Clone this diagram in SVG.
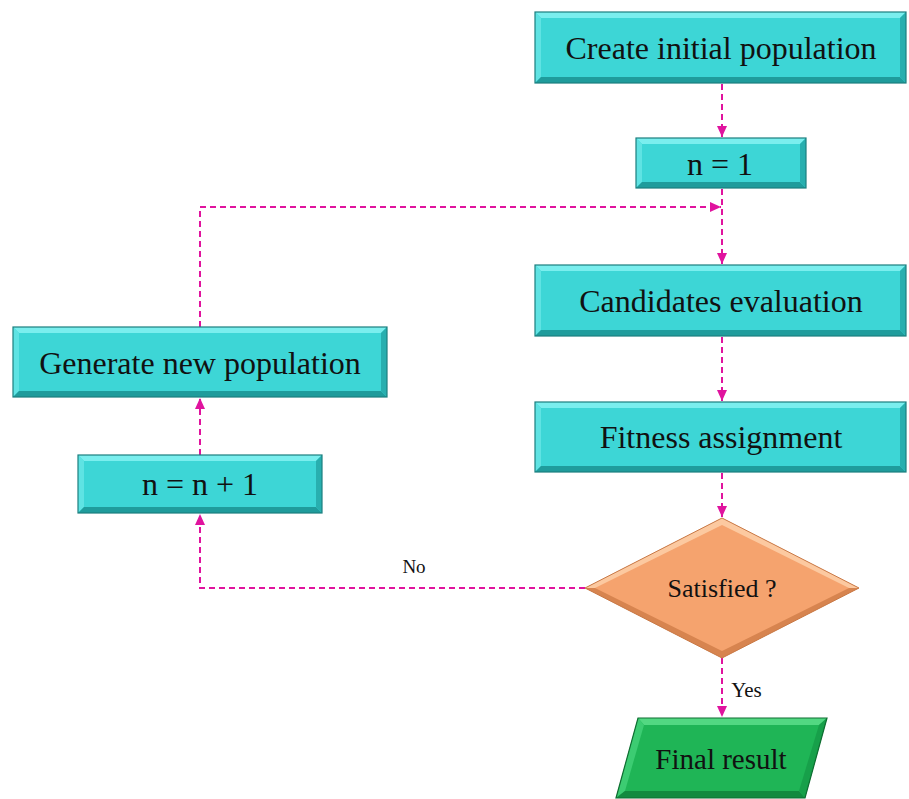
<svg xmlns="http://www.w3.org/2000/svg" width="909" height="799" viewBox="0 0 909 799">
<defs>
<style>
.t{fill:#111;text-anchor:middle}
.big{font-size:32px}
.main{fill:#3dd6d6}
.lt{fill:#7aeeee}
.ll{fill:#5fe3e3}
.dk{fill:#1f9c9c}
.dr{fill:#28afaf}
.edge{fill:none;stroke:#1b7f7f;stroke-width:1.2}
.c{fill:none;stroke:#e0139e;stroke-width:2;stroke-dasharray:6 4}
</style>
<marker id="ah" markerUnits="userSpaceOnUse" markerWidth="12" markerHeight="12" viewBox="0 0 12 12" refX="11" refY="6" orient="auto">
<path d="M0,1 L11,6 L0,11 Z" fill="#e0139e"/>
</marker>
</defs>
<rect width="909" height="799" fill="#fff"/>
<g font-family="'Liberation Serif', 'Times New Roman', 'DejaVu Serif', serif">
<g id="connectors">
<path class="c" d="M722,84 V137" marker-end="url(#ah)"/>
<path class="c" d="M722,189 V264" marker-end="url(#ah)"/>
<path class="c" d="M200,327 V207 H721" marker-end="url(#ah)"/>
<path class="c" d="M722,337 V401" marker-end="url(#ah)"/>
<path class="c" d="M722,473 V517" marker-end="url(#ah)"/>
<path class="c" d="M585,588 H200 V514" marker-end="url(#ah)"/>
<path class="c" d="M200,455 V398" marker-end="url(#ah)"/>
<path class="c" d="M722,658 V717" marker-end="url(#ah)"/>
<text class="t" font-size="19" x="414" y="573">No</text>
<text class="t" font-size="21" x="746.5" y="697">Yes</text>
</g>

<g id="create">
<rect class="main" x="535" y="12" width="371" height="71"/>
<polygon class="lt" points="535,12 906,12 900,18 541,18"/>
<polygon class="ll" points="535,12 541,18 541,77 535,83"/>
<polygon class="dk" points="535,83 541,77 900,77 906,83"/>
<polygon class="dr" points="906,12 906,83 900,77 900,18"/>
<rect class="edge" x="535" y="12" width="371" height="71"/>
<text class="t big" x="721" y="59">Create initial population</text>
</g>

<g id="n1">
<rect class="main" x="636" y="138" width="170" height="50"/>
<polygon class="lt" points="636,138 806,138 800,144 642,144"/>
<polygon class="ll" points="636,138 642,144 642,182 636,188"/>
<polygon class="dk" points="636,188 642,182 800,182 806,188"/>
<polygon class="dr" points="806,138 806,188 800,182 800,144"/>
<rect class="edge" x="636" y="138" width="170" height="50"/>
<text class="t big" x="720" y="175">n = 1</text>
</g>

<g id="candidates">
<rect class="main" x="535" y="265" width="371" height="71"/>
<polygon class="lt" points="535,265 906,265 900,271 541,271"/>
<polygon class="ll" points="535,265 541,271 541,330 535,336"/>
<polygon class="dk" points="535,336 541,330 900,330 906,336"/>
<polygon class="dr" points="906,265 906,336 900,330 900,271"/>
<rect class="edge" x="535" y="265" width="371" height="71"/>
<text class="t big" x="721" y="312">Candidates evaluation</text>
</g>

<g id="fitness">
<rect class="main" x="535" y="402" width="371" height="70"/>
<polygon class="lt" points="535,402 906,402 900,408 541,408"/>
<polygon class="ll" points="535,402 541,408 541,466 535,472"/>
<polygon class="dk" points="535,472 541,466 900,466 906,472"/>
<polygon class="dr" points="906,402 906,472 900,466 900,408"/>
<rect class="edge" x="535" y="402" width="371" height="70"/>
<text class="t big" x="721" y="448">Fitness assignment</text>
</g>

<g id="generate">
<rect class="main" x="13" y="327" width="374" height="70"/>
<polygon class="lt" points="13,327 387,327 381,333 19,333"/>
<polygon class="ll" points="13,327 19,333 19,391 13,397"/>
<polygon class="dk" points="13,397 19,391 381,391 387,397"/>
<polygon class="dr" points="387,327 387,397 381,391 381,333"/>
<rect class="edge" x="13" y="327" width="374" height="70"/>
<text class="t big" x="200" y="374">Generate new population</text>
</g>

<g id="nplus">
<rect class="main" x="78" y="455" width="244" height="58"/>
<polygon class="lt" points="78,455 322,455 316,461 84,461"/>
<polygon class="ll" points="78,455 84,461 84,507 78,513"/>
<polygon class="dk" points="78,513 84,507 316,507 322,513"/>
<polygon class="dr" points="322,455 322,513 316,507 316,461"/>
<rect class="edge" x="78" y="455" width="244" height="58"/>
<text class="t big" x="200" y="495">n = n + 1</text>
</g>

<g id="satisfied">
<polygon points="722,518 859,588 722,658 585,588" fill="#f5a36e"/>
<polygon points="722,518 859,588 849,588 722,525 595,588 585,588" fill="#fcc9a0"/>
<polygon points="585,588 595,588 722,651 849,588 859,588 722,658" fill="#d7844f"/>
<polygon points="722,518 859,588 722,658 585,588" fill="none" stroke="#c87a48" stroke-width="1"/>
<text class="t" font-size="26" x="722" y="597">Satisfied ?</text>
</g>

<g id="final">
<polygon points="638,718 827,718 805,798 616,798" fill="#1fb556"/>
<polygon points="638,718 827,718 819,725 644,725" fill="#52d882"/>
<polygon points="638,718 644,725 625,791 616,798" fill="#3ccc72"/>
<polygon points="616,798 625,791 799,791 805,798" fill="#128a3f"/>
<polygon points="827,718 805,798 799,791 819,725" fill="#17a04a"/>
<polygon points="638,718 827,718 805,798 616,798" fill="none" stroke="#0f6e32" stroke-width="1.2"/>
<text class="t" font-size="29" x="721" y="769">Final result</text>
</g>
</g>
</svg>
